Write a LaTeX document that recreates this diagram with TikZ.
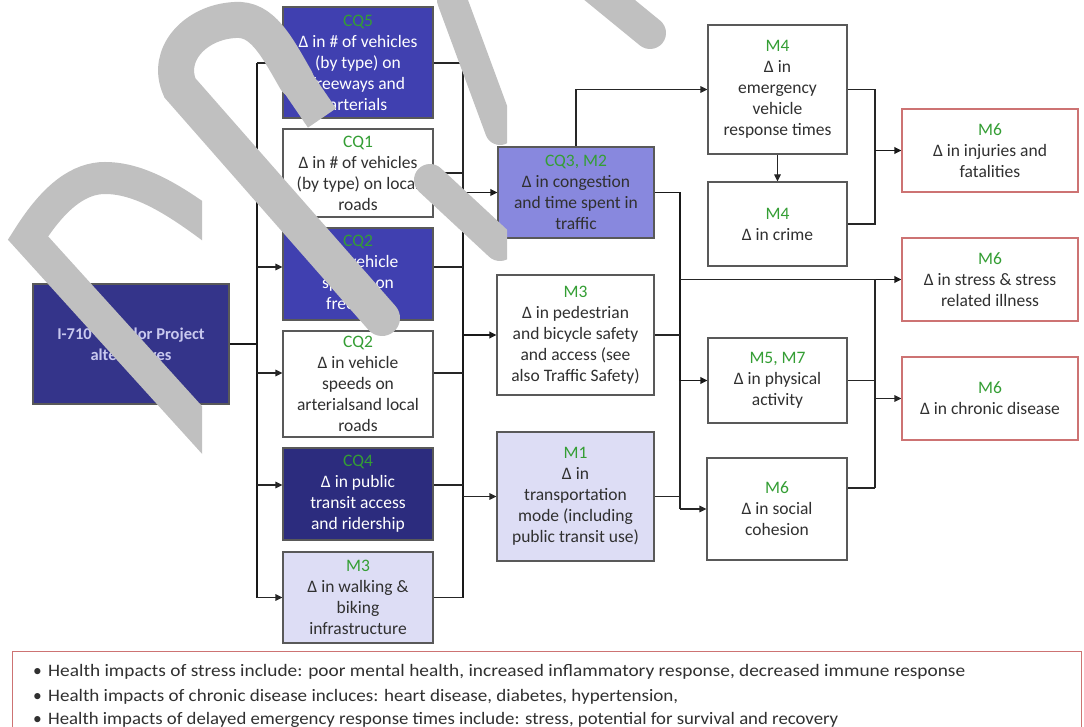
\documentclass[tikz,border=0pt]{standalone}
\usepackage{fontspec}
\usepackage{graphicx}
\setmainfont{Carlito}
\usetikzlibrary{arrows.meta}
\pgfdeclarelayer{bg}
\pgfsetlayers{bg,main}
\definecolor{navy}{RGB}{52,52,138}
\definecolor{midblue}{RGB}{64,64,176}
\definecolor{darkblue}{RGB}{44,44,126}
\definecolor{peri}{RGB}{136,136,222}
\definecolor{lav}{RGB}{221,221,245}
\definecolor{lgreen}{RGB}{52,158,52}
\definecolor{redline}{RGB}{205,115,115}
\definecolor{wmgray}{RGB}{192,192,192}
\definecolor{txt}{RGB}{48,48,48}
\definecolor{alttxt}{RGB}{200,200,238}
\newcommand{\glab}[1]{\textcolor{lgreen}{#1}}
\tikzset{
  box/.style={draw=black!65, line width=1.1pt, align=center, inner sep=0pt,
    font=\fontsize{17.5}{21}\selectfont, text=txt},
  redbox/.style={box, draw=redline},
  bx/.style 2 args={minimum width=#1pt, minimum height=#2pt},
  ln/.style={draw=black!85, line width=1.1pt},
  tk/.style={draw=black!90, line width=1.8pt},
  arr/.style={ln, -{Triangle[length=7pt,width=6.5pt]}},
  tarr/.style={tk, -{Triangle[length=7pt,width=6.5pt]}},
  wm/.style={draw=wmgray, line width=34pt},
}
\begin{document}
\begin{tikzpicture}[x=1pt,y=-1pt]
\useasboundingbox (0,0) rectangle (1084,727);

% column 0
\node[box, bx={196}{120}, fill=navy, text=alttxt, font=\fontsize{16.5}{21}\selectfont\bfseries] (alt) at (131,344) {I-710 Corridor Project\\alternatives};

% column 1
\node[box, bx={150}{111}, fill=midblue, text=white] (cq5) at (358,62.5) {\glab{CQ5}\\Δ in \# of vehicles\\(by type) on\\freeways and\\arterials};
\node[box, bx={150}{88}, fill=white] (cq1) at (358,173) {\glab{CQ1}\\Δ in \# of vehicles\\(by type) on local\\roads};
\node[box, bx={150}{92}, fill=midblue, text=white] (cqs) at (358,274) {\glab{CQ2}\\Δ in vehicle\\speeds on\\freeways};
\node[box, bx={150}{106}, fill=white] (cq2) at (358,384) {\glab{CQ2}\\Δ in vehicle\\speeds on\\arterialsand local\\roads};
\node[box, bx={150}{92}, fill=darkblue, text=white] (cq4) at (358,494) {\glab{CQ4}\\Δ in public\\transit access\\and ridership};
\node[box, bx={150}{91}, fill=lav] (m3w) at (358,597.5) {\glab{M3}\\Δ in walking \&\\biking\\infrastructure};

% column 2
\node[box, bx={156}{91}, fill=peri] (cq3) at (576,192.5) {\glab{CQ3, M2}\\Δ in congestion\\and time spent in\\traffic};
\node[box, bx={157}{120}, fill=white] (m3p) at (575.5,335) {\glab{M3}\\Δ in pedestrian\\and bicycle safety\\and access (see\\also Traffic Safety)};
\node[box, bx={157}{129}, fill=lav] (m1) at (575.5,496.5) {\glab{M1}\\Δ in\\transportation\\mode (including\\public transit use)};

% column 3
\node[box, bx={139}{129}, fill=white] (m4e) at (777.5,89.5) {\glab{M4}\\Δ in\\emergency\\vehicle\\response times};
\node[box, bx={139}{84}, fill=white] (m4c) at (777.5,224) {\glab{M4}\\Δ in crime};
\node[box, bx={139}{85}, fill=white] (m57) at (777.5,380.5) {\glab{M5, M7}\\Δ in physical\\activity};
\node[box, bx={140}{102}, fill=white] (m6s) at (777,509) {\glab{M6}\\Δ in social\\cohesion};

% column 4
\node[redbox, bx={176}{83}, fill=white] (m6i) at (990,150.5) {\glab{M6}\\Δ in injuries and\\fatalities};
\node[redbox, bx={176}{83}, fill=white] (m6st) at (990,279.5) {\glab{M6}\\Δ in stress \& stress\\related illness};
\node[redbox, bx={176}{83}, fill=white] (m6ch) at (990,398.5) {\glab{M6}\\Δ in chronic disease};

% notes
\node[draw=redline, line width=1pt, anchor=north west, minimum width=1069pt, minimum height=110pt, inner sep=0pt] (notes) at (12,651) {};
\tikzset{nt/.style={anchor=base west, inner sep=0pt, text=txt, font=\fontsize{17.5}{22}\selectfont}}
\node[nt] (n1) at (33,676) {\makebox[15pt][l]{•}\resizebox{917pt}{\height}{Health impacts of stress include: poor mental health, increased inflammatory response, decreased immune response}};
\node[nt] (n2) at (33,701) {\makebox[15pt][l]{•}\resizebox{630pt}{\height}{Health impacts of chronic disease incluces: heart disease, diabetes, hypertension,}};
\node[nt] (n3) at (33,724) {\makebox[15pt][l]{•}\resizebox{790pt}{\height}{Health impacts of delayed emergency response times include: stress, potential for survival and recovery}};

\coordinate (tt) at (257,63);
\coordinate (ct) at (463,63);
\coordinate (sp) at (680,0);
\coordinate (rx) at (875,0);
\coordinate (scout) at ([yshift=21pt]m6s.east);

\begin{pgfonlayer}{bg}
\fill[white] (0,0) rectangle (1084,727);
\draw[tk, line width=2.4pt] (alt.east) -- (alt.east -| tt);
\draw[tk] (tt) -- (tt |- m3w.west);
\draw[ln] (tt) -- (ct);
\draw[arr] ([yshift=7pt]cqs.west -| tt) -- ([yshift=7pt]cqs.west);
\draw[arr] ([yshift=11pt]cq2.west -| tt) -- ([yshift=11pt]cq2.west);
\draw[arr] ([yshift=9pt]cq4.west -| tt) -- ([yshift=9pt]cq4.west);
\draw[arr] (tt |- m3w.west) -- (m3w.west);
% collector
\draw[ln] (ct) -- (ct |- cq3.west);
\draw[tk] (ct |- cq3.west) -- (ct |- m3w.east);
\draw[ln] (cq1.east) -- (cq1.east -| ct);
\draw[ln] ([yshift=7pt]cqs.east) -- ([yshift=7pt]cqs.east -| ct);
\draw[ln] ([yshift=11pt]cq2.east) -- ([yshift=11pt]cq2.east -| ct);
\draw[ln] ([yshift=9pt]cq4.east) -- ([yshift=9pt]cq4.east -| ct);
\draw[ln] (m3w.east) -- (m3w.east -| ct);
\draw[tarr] (ct |- cq3.west) -- (cq3.west);
\draw[tarr] (ct |- m3p.west) -- (m3p.west);
\draw[arr] (ct |- m1.west) -- (m1.west);
% congestion outputs
\draw[arr] (cq3.north) |- (m4e.west);
\draw[tk] (cq3.east) -- (sp |- cq3.east) -- (sp |- m57.west);
\draw[ln] (sp |- m57.west) -- (sp |- m6s.west);
\draw[arr] (sp |- m6s.west) -- (m6s.west);
\draw[ln] (sp |- m6st.west) -- (rx |- m6st.west);
\draw[tarr] (rx |- m6st.west) -- (m6st.west);
\draw[ln] (m3p.east) -- (sp |- m3p.east);
\draw[ln] (m1.east) -- (sp |- m1.east);
\draw[tarr] (sp |- m57.west) -- (m57.west);
% right side
\draw[ln] (m4e.east) -- (rx |- m4e.east) -- (rx |- m4c.east) -- (m4c.east);
\draw[tarr] (rx |- m6i.west) -- (m6i.west);
\draw[arr] (m4e.south) -- (m4c.north);
\draw[ln] (m57.east) -- (rx |- m57.east);
\draw[ln] (scout) -- (rx |- scout);
\draw[ln] (rx |- m6st.west) -- (rx |- scout);
\draw[arr] (rx |- m6ch.west) -- (m6ch.west);
\end{pgfonlayer}

% watermark bands
\begin{scope}
\clip (0,0) rectangle (202,727);
\draw[wm, line width=32pt, line join=miter] (222,452) -- (28,238) .. controls (55,195) and (80,178) .. (105,178) .. controls (140,178) and (175,200) .. (215,230);
\end{scope}
\draw[wm, line width=36pt, line cap=round] (382,318) -- (180,88) .. controls (165,55) and (195,22) .. (235,20) .. controls (262,18) and (276,45) .. (296,80);
\draw[wm, line width=34pt] (296,80) -- (322,118);
\begin{scope}
\clip (0,0) rectangle (507,727);
\draw[wm, line width=32pt, line cap=round] (430,180) -- (500,245);
\draw[wm, line width=30pt, line cap=round] (452,0) -- (500,130);
\end{scope}
\draw[wm, line width=32pt, line cap=round] (595,-12) -- (650,33);
\end{tikzpicture}
\end{document}
